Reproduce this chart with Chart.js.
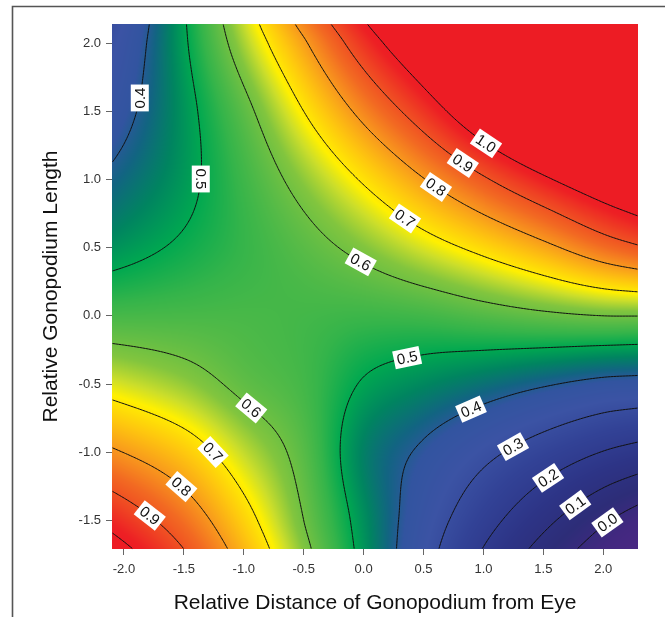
<!DOCTYPE html>
<html>
<head>
<meta charset="utf-8">
<script src="https://cdn.jsdelivr.net/npm/chart.js@4.4.0/dist/chart.umd.min.js"></script>
<style>
html,body{margin:0;padding:0;background:#fff;}
canvas{display:block;}
</style>
</head>
<body>
<canvas id="c" width="665" height="617"></canvas>
<script>
// ---- data ----
const xNodes = [-2.1, -1.5, -1.0, -0.5, 0.0, 0.5, 1.0, 1.5, 2.0, 2.29];
const yNodes = [-1.71, -1.5, -1.0, -0.5, 0.0, 0.5, 1.0, 1.5, 2.0, 2.14];

const zAtYm171 = [1.04, 0.90, 0.762, 0.618, 0.478, 0.336, 0.197, 0.069, -0.055, -0.14];
const zAtYm150 = [0.97, 0.852, 0.729, 0.600, 0.472, 0.350, 0.235, 0.124, 0.013, -0.05];
const zAtYm100 = [0.81, 0.740, 0.655, 0.575, 0.455, 0.388, 0.322, 0.258, 0.197, 0.169];
const zAtYm050 = [0.67, 0.630, 0.585, 0.555, 0.495, 0.464, 0.436, 0.407, 0.380, 0.373];
const zAtY000  = [0.558, 0.560, 0.560, 0.555, 0.548, 0.553, 0.570, 0.587, 0.600, 0.601];
const zAtY050  = [0.474, 0.510, 0.542, 0.577, 0.618, 0.668, 0.720, 0.780, 0.854, 0.890];
const zAtY100  = [0.414, 0.482, 0.550, 0.626, 0.708, 0.797, 0.890, 0.985, 1.080, 1.130];
const zAtY150  = [0.360, 0.477, 0.580, 0.700, 0.823, 0.947, 1.087, 1.230, 1.370, 1.450];
const zAtY200  = [0.317, 0.490, 0.640, 0.790, 0.950, 1.100, 1.250, 1.400, 1.500, 1.550];
const zAtY214  = [0.300, 0.493, 0.657, 0.824, 0.990, 1.150, 1.300, 1.450, 1.600, 1.700];

const zRows = [zAtYm171, zAtYm150, zAtYm100, zAtYm050, zAtY000, zAtY050, zAtY100, zAtY150, zAtY200, zAtY214];

const xTickValues = [-2.0, -1.5, -1.0, -0.5, 0.0, 0.5, 1.0, 1.5, 2.0];
const yTickValues = [-1.5, -1.0, -0.5, 0.0, 0.5, 1.0, 1.5, 2.0];
const contourLevels = [0.0, 0.1, 0.2, 0.3, 0.4, 0.5, 0.6, 0.7, 0.8, 0.9, 1.0];

const xTitle = 'Relative Distance of Gonopodium from Eye';
const yTitle = 'Relative Gonopodium Length';

// contour label anchors (level text, near data point)
const contourLabels = [
  {level:0.4, x:-1.89, y:1.61, rot:-90},
  {level:0.5, x:-1.36, y:1.01, rot:90},
  {level:0.6, x:-0.01, y:0.42},
  {level:0.7, x:0.35, y:0.73},
  {level:0.8, x:0.61, y:0.95},
  {level:0.9, x:0.82, y:1.12},
  {level:1.0, x:1.03, y:1.28},
  {level:0.5, x:0.36, y:-0.30},
  {level:0.4, x:0.89, y:-0.68},
  {level:0.3, x:1.24, y:-0.95},
  {level:0.2, x:1.53, y:-1.18},
  {level:0.1, x:1.78, y:-1.40},
  {level:0.0, x:2.03, y:-1.52},
  {level:0.6, x:-0.97, y:-0.72},
  {level:0.7, x:-1.28, y:-1.02},
  {level:0.8, x:-1.54, y:-1.27},
  {level:0.9, x:-1.78, y:-1.47}
];

// ---- colour map ----
const colorStops = [
  [-0.20, [78, 40, 132]],
  [-0.05, [66, 40, 128]],
  [0.05, [45, 45, 120]],
  [0.15, [45, 52, 134]],
  [0.25, [50, 66, 150]],
  [0.33, [59, 83, 164]],
  [0.385, [50, 84, 160]],
  [0.42, [18, 100, 130]],
  [0.46, [0, 132, 96]],
  [0.50, [0, 168, 80]],
  [0.54, [52, 180, 74]],
  [0.58, [92, 188, 70]],
  [0.62, [130, 197, 62]],
  [0.66, [204, 222, 42]],
  [0.69, [255, 240, 0]],
  [0.74, [254, 200, 14]],
  [0.80, [248, 152, 29]],
  [0.86, [242, 105, 34]],
  [0.92, [239, 70, 35]],
  [0.98, [237, 32, 36]],
  [1.00, [237, 28, 36]]
];
function colorFor(v){
  if (v <= colorStops[0][0]) return colorStops[0][1];
  for (let i=1;i<colorStops.length;i++){
    if (v <= colorStops[i][0]){
      const a=colorStops[i-1], b=colorStops[i];
      const t=(v-a[0])/(b[0]-a[0]);
      return [a[1][0]+(b[1][0]-a[1][0])*t, a[1][1]+(b[1][1]-a[1][1])*t, a[1][2]+(b[1][2]-a[1][2])*t];
    }
  }
  return colorStops[colorStops.length-1][1];
}

function hermite(nodes, vals, t){
  const n=nodes.length;
  let i=0; while(i<n-2 && t>nodes[i+1]) i++;
  const x0=nodes[i], x1=nodes[i+1], h=x1-x0;
  const s=(t-x0)/h;
  const d=k=> k===0 ? (vals[1]-vals[0])/(nodes[1]-nodes[0])
           : k===n-1 ? (vals[n-1]-vals[n-2])/(nodes[n-1]-nodes[n-2])
           : (vals[k+1]-vals[k-1])/(nodes[k+1]-nodes[k-1]);
  const m0=d(i)*h, m1=d(i+1)*h;
  const s2=s*s, s3=s2*s;
  return (2*s3-3*s2+1)*vals[i]+(s3-2*s2+s)*m0+(-2*s3+3*s2)*vals[i+1]+(s3-s2)*m1;
}

const FONT = "'Liberation Sans', Arial, Helvetica, sans-serif";

const framePlugin = {
  id:'frame',
  beforeDraw(chart){
    const c=chart.ctx;
    c.save();
    c.fillStyle='#fff'; c.fillRect(0,0,chart.width,chart.height);
    c.strokeStyle='#555'; c.lineWidth=1.6;
    c.beginPath(); c.moveTo(12.5,617); c.lineTo(12.5,6.5); c.lineTo(665,6.5); c.stroke();
    c.restore();
  }
};

const heatPlugin = {
  id:'heat',
  beforeDatasetsDraw(chart){
    const c=chart.ctx, xs=chart.scales.x, ys=chart.scales.y, a=chart.chartArea;
    const L=Math.round(a.left), T=Math.round(a.top);
    const W=Math.round(a.right)-L, H=Math.round(a.bottom)-T;
    const colVals=[];
    for(let i=0;i<W;i++){
      const xv=xs.getValueForPixel(L+i+0.5);
      colVals.push(zRows.map(r=>hermite(xNodes, r, xv)));
    }
    const yv=[];
    for(let j=0;j<H;j++) yv.push(ys.getValueForPixel(T+j+0.5));
    const field=new Float32Array(W*H);
    const off=document.createElement('canvas'); off.width=W; off.height=H;
    const octx=off.getContext('2d');
    const img=octx.createImageData(W,H);
    for(let i=0;i<W;i++){
      for(let j=0;j<H;j++){
        const v=hermite(yNodes, colVals[i], yv[j]);
        field[j*W+i]=v;
        const col=colorFor(v);
        const p=(j*W+i)*4;
        img.data[p]=col[0]; img.data[p+1]=col[1]; img.data[p+2]=col[2]; img.data[p+3]=255;
      }
    }
    octx.putImageData(img,0,0);
    c.save();
    c.drawImage(off,L,T);
    const step=3;
    const gx=[], gy=[];
    for(let i=0;i<W;i+=step) gx.push(i); if(gx[gx.length-1]!==W-1) gx.push(W-1);
    for(let j=0;j<H;j+=step) gy.push(j); if(gy[gy.length-1]!==H-1) gy.push(H-1);
    const segs={};
    c.beginPath();
    contourLevels.forEach(lv=>{
      const list=[]; segs[lv.toFixed(1)]=list;
      for(let a1=0;a1<gx.length-1;a1++){
        for(let b1=0;b1<gy.length-1;b1++){
          const x0=gx[a1], x1=gx[a1+1], y0=gy[b1], y1=gy[b1+1];
          const v00=field[y0*W+x0], v10=field[y0*W+x1], v11=field[y1*W+x1], v01=field[y1*W+x0];
          const pts=[];
          const edge=(va,vb,pa,pb)=>{
            if((va<lv)!==(vb<lv)){
              const t=(lv-va)/(vb-va);
              pts.push([pa[0]+(pb[0]-pa[0])*t, pa[1]+(pb[1]-pa[1])*t]);
            }
          };
          edge(v00,v10,[x0,y0],[x1,y0]);
          edge(v10,v11,[x1,y0],[x1,y1]);
          edge(v11,v01,[x1,y1],[x0,y1]);
          edge(v01,v00,[x0,y1],[x0,y0]);
          const pairs=[];
          if(pts.length===2) pairs.push([pts[0],pts[1]]);
          else if(pts.length===4){
            const cv=(v00+v10+v11+v01)/4;
            if((cv<lv)===(v00<lv)){ pairs.push([pts[0],pts[1]]); pairs.push([pts[2],pts[3]]); }
            else { pairs.push([pts[0],pts[3]]); pairs.push([pts[1],pts[2]]); }
          }
          pairs.forEach(pr=>{
            const ax=L+pr[0][0]+0.5, ay=T+pr[0][1]+0.5, bx=L+pr[1][0]+0.5, by=T+pr[1][1]+0.5;
            c.moveTo(ax,ay); c.lineTo(bx,by);
            list.push([ax,ay,bx,by]);
          });
        }
      }
    });
    c.strokeStyle='#111'; c.lineWidth=1; c.stroke();
    c.font="15px "+FONT;
    c.textAlign='center'; c.textBaseline='middle';
    contourLabels.forEach(lb=>{
      const list=segs[lb.level.toFixed(1)]; if(!list||!list.length) return;
      const px=xs.getPixelForValue(lb.x), py=ys.getPixelForValue(lb.y);
      let best=null, bd=1e9;
      list.forEach(s=>{
        const mx=(s[0]+s[2])/2, my=(s[1]+s[3])/2;
        const d=(mx-px)**2+(my-py)**2;
        if(d<bd){bd=d;best=[mx,my];}
      });
      let sx=0, sy=0, ref=null;
      list.forEach(s=>{
        const mx=(s[0]+s[2])/2, my=(s[1]+s[3])/2;
        if((mx-best[0])**2+(my-best[1])**2<14*14){
          let dx=s[2]-s[0], dy=s[3]-s[1];
          if(!ref) ref=[dx,dy];
          if(dx*ref[0]+dy*ref[1]<0){dx=-dx;dy=-dy;}
          sx+=dx; sy+=dy;
        }
      });
      let ang=Math.atan2(sy,sx);
      if(ang>Math.PI/2) ang-=Math.PI;
      if(ang<-Math.PI/2) ang+=Math.PI;
      if(lb.rot!==undefined) ang=lb.rot*Math.PI/180;
      const txt=lb.level.toFixed(1);
      const tw=c.measureText(txt).width;
      c.save();
      c.translate(best[0],best[1]);
      c.rotate(ang);
      c.fillStyle='#fff';
      c.fillRect(-tw/2-3,-9,tw+6,18);
      c.fillStyle='#111';
      c.fillText(txt,0,1);
      c.restore();
    });
    c.restore();
  }
};

const nodePoints=[];
yNodes.forEach((y,j)=>xNodes.forEach((x,i)=>nodePoints.push({x:x,y:y,z:zRows[j][i]})));

new Chart(document.getElementById('c'),{
  type:'scatter',
  data:{datasets:[{data:nodePoints, pointRadius:0, pointHoverRadius:0, showLine:false}]},
  options:{
    responsive:false, animation:false, devicePixelRatio:1,
    layout:{padding:{left:36, top:24, right:27, bottom:0}},
    plugins:{legend:{display:false}, tooltip:{enabled:false}},
    scales:{
      x:{
        type:'linear', min:-2.1, max:2.29,
        afterBuildTicks:s=>{s.ticks=xTickValues.map(v=>({value:v}));},
        afterFit:s=>{s.height=68;},
        ticks:{callback:v=>Number(v).toFixed(1), font:{size:13, family:FONT}, color:'#333', padding:7, autoSkip:false, maxRotation:0},
        grid:{drawOnChartArea:false, drawTicks:true, tickLength:6, color:'#666', tickWidth:1},
        border:{display:false},
        title:{display:true, text:xTitle, font:{size:21, family:FONT}, color:'#111', padding:{top:0, bottom:1}}
      },
      y:{
        type:'linear', min:-1.71, max:2.14,
        afterBuildTicks:s=>{s.ticks=yTickValues.map(v=>({value:v}));},
        afterFit:s=>{s.width=76;},
        ticks:{callback:v=>Number(v).toFixed(1), font:{size:13, family:FONT}, color:'#333', padding:5, autoSkip:false},
        grid:{drawOnChartArea:false, drawTicks:true, tickLength:6, color:'#666', tickWidth:1},
        border:{display:false},
        title:{display:true, text:yTitle, font:{size:21, family:FONT}, color:'#111', padding:{top:3, bottom:0}}
      }
    }
  },
  plugins:[framePlugin, heatPlugin]
});
</script>
</body>
</html>
